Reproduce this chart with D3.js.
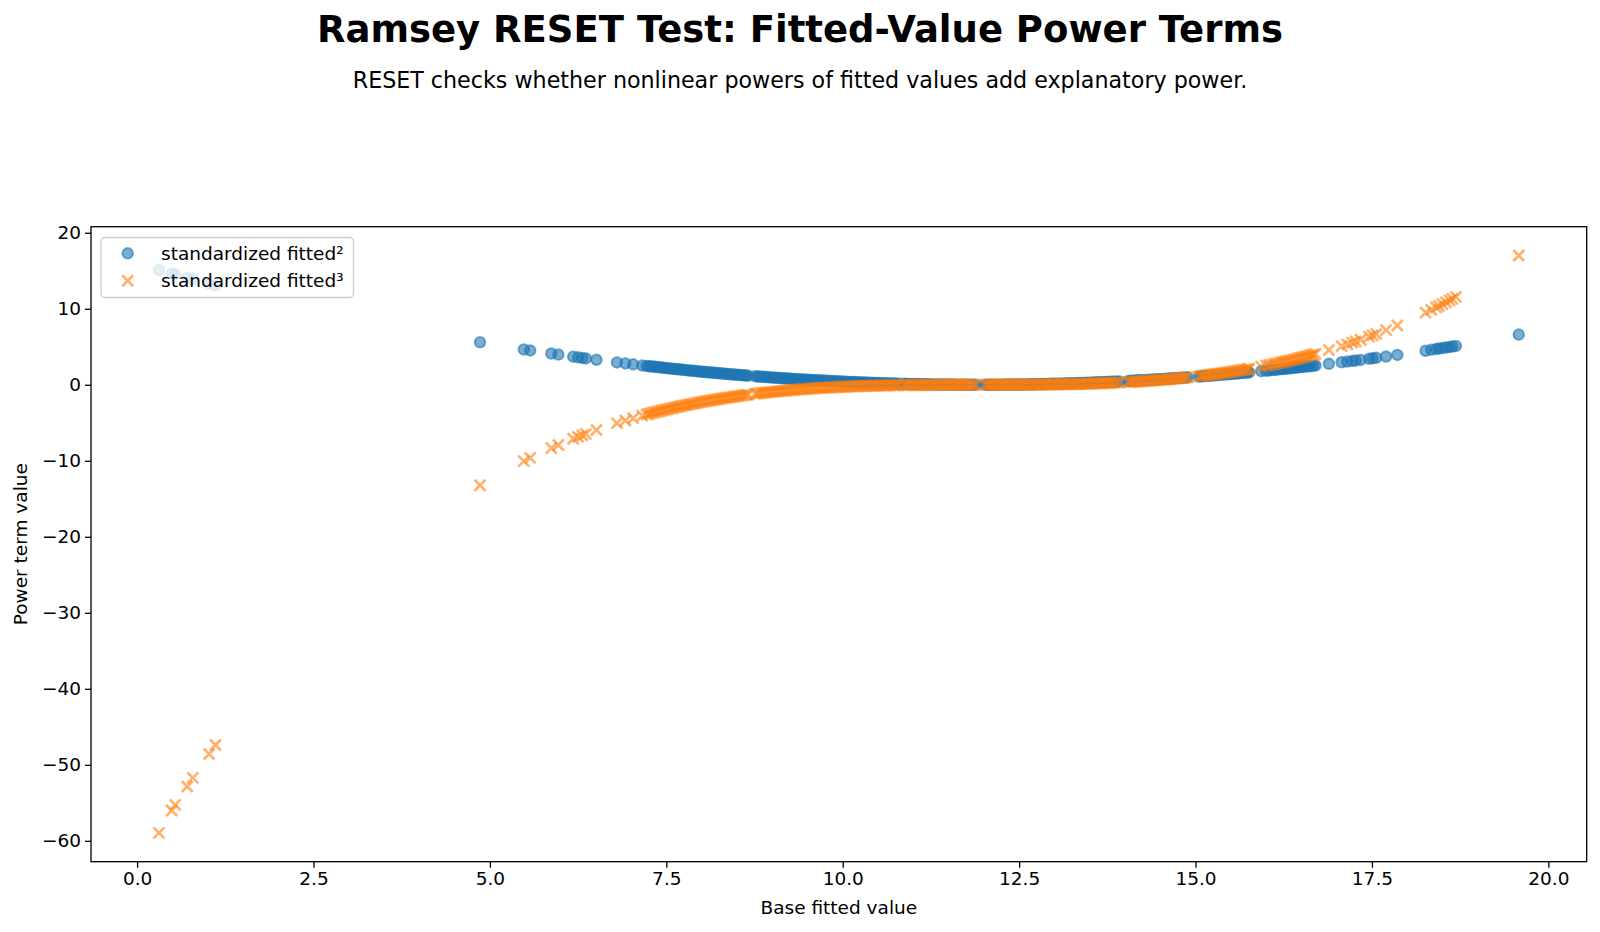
<!DOCTYPE html>
<html>
<head>
<meta charset="utf-8">
<script src="https://cdn.jsdelivr.net/npm/d3@7"></script>
<style>
  html, body { margin: 0; padding: 0; background: #fff; }
  svg { display: block; }
  text { font-family: "DejaVu Sans", sans-serif; fill: #000; }
</style>
</head>
<body>
<svg id="chart" width="1600" height="932"></svg>
<script>
// ---- data ----
const baseFitted = [
  0.31,0.49,0.54,0.71,0.79,1.02,1.11,
  4.86,
  5.48,5.57,5.87,5.97,6.18,6.25,6.31,6.36,6.51,6.80,6.92,7.03,7.16,
  7.22,7.28,7.34,7.40,7.46,7.52,7.58,7.64,7.70,7.76,7.82,7.88,7.94,8.00,8.06,8.12,8.18,8.24,8.30,8.36,8.42,8.48,8.54,8.60,8.66,
  8.76,8.82,8.88,8.94,9.00,9.06,9.12,9.18,9.24,9.30,9.36,9.42,9.48,9.54,9.60,9.66,9.72,9.78,9.84,9.90,9.96,10.02,10.08,10.14,10.20,10.26,10.32,10.38,10.44,10.50,10.56,10.62,10.68,10.74,10.80,
  10.86,10.92,10.98,11.04,11.10,11.16,11.22,11.28,11.34,11.40,11.46,11.52,11.58,11.64,11.70,11.76,11.82,11.88,
  12.02,12.08,12.14,12.20,12.26,12.32,12.38,12.44,12.50,12.56,12.62,12.68,12.74,12.80,12.86,12.92,12.98,13.04,13.10,13.16,13.22,13.28,13.34,13.40,13.46,13.52,13.58,13.64,13.70,13.76,13.82,13.88,13.92,
  14.05,14.11,14.17,14.23,14.29,14.35,14.41,14.47,14.53,14.59,14.65,14.71,14.77,14.83,14.89,
  15.05,15.11,15.17,15.23,15.29,15.35,15.41,15.47,15.53,15.59,15.65,15.71,15.76,
  15.93,16.00,16.08,16.15,16.22,16.28,16.34,16.40,16.46,16.52,16.58,16.64,16.70,
  16.89,17.07,17.15,17.22,17.27,17.34,17.46,17.51,17.56,17.70,17.86,
  18.26,18.34,18.41,18.45,18.50,18.55,18.60,18.64,18.69,
  19.58,
  7.25,7.31,7.37,7.43,7.49,7.55,7.61,7.67,7.73,7.79,7.85,7.91,7.97,8.03,8.09,8.15,8.21,8.27,8.33,8.39,8.45,8.51,8.57,8.63,
  8.79,8.85,8.91,8.97,9.03,9.09,9.15,9.21,9.27,9.33,9.39,9.45,9.51,9.57,9.63,9.69,9.75,9.81,9.87,9.93,9.99,10.05,10.11,10.17,10.23,10.29,10.35,10.41,10.47,10.53,10.59,10.65,10.71,10.77,
  10.89,10.95,11.01,11.07,11.13,11.19,11.25,11.31,11.37,11.43,11.49,11.55,11.61,11.67,11.73,11.79,11.85,
  12.05,12.11,12.17,12.23,12.29,12.35,12.41,12.47,12.53,12.59,12.65,12.71,12.77,12.83,12.89,12.95,13.01,13.07,13.13,13.19,13.25,13.31,13.37,13.43,13.49,13.55,13.61,13.67,13.73,13.79,13.85,
  14.08,14.14,14.20,14.26,14.32,14.38,14.44,14.50,14.56,14.62,14.68,14.74,14.80,14.86,
  15.08,15.14,15.20,15.26,15.32,15.38,15.44,15.50,15.56,15.62,15.68,15.74,
  16.04,16.12,16.19,16.25,16.31,16.37,16.43,16.49,16.55,16.61,16.67
];
const fittedSquared = [
  15.10,14.64,14.51,14.08,13.88,13.31,13.10,
  5.59,
  4.65,4.52,4.11,3.97,3.70,3.61,3.53,3.47,3.29,2.94,2.81,2.69,2.54,
  2.48,2.42,2.36,2.30,2.24,2.18,2.12,2.06,2.00,1.95,1.89,1.84,1.78,1.73,1.68,1.62,1.57,1.52,1.47,1.43,1.38,1.33,1.29,1.24,1.20,
  1.12,1.08,1.04,1.00,0.96,0.92,0.88,0.85,0.81,0.77,0.74,0.70,0.67,0.64,0.61,0.58,0.55,0.52,0.49,0.46,0.43,0.41,0.38,0.36,0.34,0.31,0.29,0.27,0.25,0.23,0.21,0.19,0.17,0.16,0.14,
  0.13,0.11,0.10,0.09,0.08,0.07,0.06,0.05,0.04,0.03,0.02,0.02,0.01,0.01,0.01,0.00,0.00,0.00,
  0.00,0.00,0.00,0.01,0.01,0.02,0.02,0.03,0.04,0.04,0.05,0.06,0.07,0.08,0.10,0.11,0.12,0.14,0.15,0.17,0.19,0.20,0.22,0.24,0.26,0.28,0.30,0.33,0.35,0.37,0.40,0.43,0.44,
  0.50,0.53,0.56,0.59,0.62,0.65,0.69,0.72,0.76,0.79,0.83,0.86,0.90,0.94,0.98,
  1.09,1.13,1.17,1.22,1.26,1.31,1.35,1.40,1.45,1.50,1.55,1.60,1.64,
  1.79,1.85,1.93,1.99,2.06,2.12,2.18,2.24,2.30,2.36,2.42,2.48,2.54,
  2.75,2.96,3.05,3.13,3.19,3.27,3.42,3.48,3.55,3.72,3.93,
  4.48,4.60,4.70,4.76,4.83,4.90,4.98,5.04,5.11,
  6.60,
  2.45,2.39,2.33,2.27,2.21,2.15,2.09,2.03,1.97,1.92,1.86,1.81,1.75,1.70,1.65,1.60,1.55,1.50,1.45,1.40,1.35,1.31,1.26,1.22,
  1.10,1.06,1.02,0.98,0.94,0.90,0.86,0.83,0.79,0.76,0.72,0.69,0.65,0.62,0.59,0.56,0.53,0.50,0.47,0.45,0.42,0.40,0.37,0.35,0.32,0.30,0.28,0.26,0.24,0.22,0.20,0.18,0.17,0.15,
  0.12,0.11,0.10,0.09,0.07,0.06,0.05,0.04,0.04,0.03,0.02,0.02,0.01,0.01,0.00,0.00,0.00,
  0.00,0.00,0.01,0.01,0.01,0.02,0.03,0.03,0.04,0.05,0.06,0.07,0.08,0.09,0.10,0.12,0.13,0.15,0.16,0.18,0.19,0.21,0.23,0.25,0.27,0.29,0.32,0.34,0.36,0.39,0.41,
  0.52,0.55,0.58,0.61,0.64,0.67,0.70,0.74,0.77,0.81,0.85,0.88,0.92,0.96,
  1.11,1.15,1.20,1.24,1.29,1.33,1.38,1.43,1.47,1.52,1.57,1.62,
  1.89,1.96,2.03,2.09,2.15,2.21,2.27,2.33,2.39,2.45,2.51
];
const fittedCubed = [
  -58.95,-56.01,-55.27,-52.85,-51.72,-48.58,-47.39,
  -13.22,
  -10.04,-9.62,-8.33,-7.92,-7.11,-6.86,-6.64,-6.46,-5.96,-5.05,-4.70,-4.40,-4.06,
  -3.91,-3.76,-3.62,-3.48,-3.34,-3.21,-3.08,-2.95,-2.83,-2.71,-2.60,-2.49,-2.38,-2.27,-2.17,-2.07,-1.97,-1.88,-1.79,-1.70,-1.62,-1.54,-1.46,-1.38,-1.31,
  -1.19,-1.12,-1.06,-1.00,-0.94,-0.88,-0.83,-0.78,-0.73,-0.68,-0.64,-0.59,-0.55,-0.51,-0.47,-0.44,-0.40,-0.37,-0.34,-0.31,-0.29,-0.26,-0.24,-0.21,-0.19,-0.17,-0.16,-0.14,-0.12,-0.11,-0.10,-0.08,-0.07,-0.06,-0.05,
  -0.05,-0.04,-0.03,-0.03,-0.02,-0.02,-0.01,-0.01,-0.01,-0.01,0.00,0.00,0.00,0.00,0.00,0.00,0.00,0.00,
  0.00,0.00,0.00,0.00,0.00,0.00,0.00,0.00,0.01,0.01,0.01,0.02,0.02,0.02,0.03,0.04,0.04,0.05,0.06,0.07,0.08,0.09,0.11,0.12,0.13,0.15,0.17,0.19,0.21,0.23,0.25,0.28,0.30,
  0.36,0.39,0.42,0.45,0.49,0.53,0.57,0.61,0.66,0.70,0.75,0.80,0.86,0.91,0.97,
  1.14,1.20,1.27,1.34,1.42,1.50,1.58,1.66,1.75,1.83,1.93,2.02,2.10,
  2.39,2.52,2.67,2.81,2.95,3.08,3.21,3.34,3.48,3.62,3.76,3.91,4.06,
  4.57,5.08,5.32,5.54,5.70,5.92,6.33,6.50,6.67,7.19,7.80,
  9.49,9.85,10.18,10.37,10.61,10.85,11.10,11.30,11.56,
  17.00,
  -3.83,-3.69,-3.55,-3.41,-3.27,-3.14,-3.02,-2.89,-2.77,-2.66,-2.54,-2.43,-2.32,-2.22,-2.12,-2.02,-1.93,-1.83,-1.75,-1.66,-1.58,-1.50,-1.42,-1.35,
  -1.16,-1.09,-1.03,-0.97,-0.91,-0.86,-0.80,-0.75,-0.70,-0.66,-0.61,-0.57,-0.53,-0.49,-0.45,-0.42,-0.39,-0.36,-0.33,-0.30,-0.27,-0.25,-0.23,-0.20,-0.18,-0.16,-0.15,-0.13,-0.12,-0.10,-0.09,-0.08,-0.07,-0.06,
  -0.04,-0.04,-0.03,-0.03,-0.02,-0.02,-0.01,-0.01,-0.01,0.00,0.00,0.00,0.00,0.00,0.00,0.00,0.00,
  0.00,0.00,0.00,0.00,0.00,0.00,0.00,0.01,0.01,0.01,0.01,0.02,0.02,0.03,0.03,0.04,0.05,0.06,0.06,0.07,0.09,0.10,0.11,0.13,0.14,0.16,0.18,0.20,0.22,0.24,0.26,
  0.37,0.40,0.44,0.47,0.51,0.55,0.59,0.64,0.68,0.73,0.78,0.83,0.88,0.94,
  1.17,1.24,1.31,1.38,1.46,1.54,1.62,1.70,1.79,1.88,1.97,2.07,
  2.60,2.75,2.89,3.02,3.14,3.27,3.41,3.55,3.69,3.83,3.98
];
const xTicks = [0.0, 2.5, 5.0, 7.5, 10.0, 12.5, 15.0, 17.5, 20.0];
const yTicks = [-60, -50, -40, -30, -20, -10, 0, 10, 20];
const seriesNames = ["standardized fitted\u00b2", "standardized fitted\u00b3"];
const seriesColors = ["#1f77b4", "#ff7f0e"];

// ---- layout ----
const svg = d3.select("#chart");
const plot = { left: 91, right: 1586.7, top: 226.7, bottom: 861.7 };
const fs = 18.5;

const xExt = d3.extent(baseFitted);
const xPad = (xExt[1] - xExt[0]) * 0.05;
const yAll = fittedSquared.concat(fittedCubed);
const yExt = d3.extent(yAll);
const yPad = (yExt[1] - yExt[0]) * 0.05;

const x = d3.scaleLinear().domain([xExt[0] - xPad, xExt[1] + xPad]).range([plot.left, plot.right]);
const y = d3.scaleLinear().domain([yExt[0] - yPad, yExt[1] + yPad]).range([plot.bottom, plot.top]);

// title
svg.append("text").attr("x", 800).attr("y", 42).attr("text-anchor", "middle")
  .attr("font-size", 37).attr("font-weight", "bold")
  .text("Ramsey RESET Test: Fitted-Value Power Terms");
svg.append("text").attr("x", 800).attr("y", 88).attr("text-anchor", "middle")
  .attr("font-size", 22.2)
  .text("RESET checks whether nonlinear powers of fitted values add explanatory power.");

// points
const gPts = svg.append("g");
const r = 5.3;
const pairsSq = baseFitted.map((d, i) => [d, fittedSquared[i]]);
const pairsCu = baseFitted.map((d, i) => [d, fittedCubed[i]]);
gPts.selectAll("circle.sq").data(pairsSq)
  .enter().append("circle").attr("class", "sq")
  .attr("cx", d => x(d[0])).attr("cy", d => y(d[1])).attr("r", r)
  .attr("fill", seriesColors[0]).attr("fill-opacity", 0.6)
  .attr("stroke", seriesColors[0]).attr("stroke-opacity", 0.6).attr("stroke-width", 1.9);

const cs = 5.5; // half size of x marker
const crossPath = `M${-cs},${-cs}L${cs},${cs}M${-cs},${cs}L${cs},${-cs}`;
gPts.selectAll("path.cu").data(pairsCu)
  .enter().append("path").attr("class", "cu")
  .attr("transform", d => `translate(${x(d[0])},${y(d[1])})`)
  .attr("d", crossPath)
  .attr("fill", "none").attr("stroke", seriesColors[1]).attr("stroke-opacity", 0.6)
  .attr("stroke-width", 2.7);

// axes
const xAxis = d3.axisBottom(x).tickValues(xTicks).tickFormat(d3.format(".1f")).tickSize(6).tickPadding(4);
const yAxis = d3.axisLeft(y).tickValues(yTicks).tickFormat(d => d < 0 ? "\u2212" + Math.abs(d) : d).tickSize(6).tickPadding(4);

const gx = svg.append("g").attr("transform", `translate(0,${plot.bottom})`).call(xAxis);
const gy = svg.append("g").attr("transform", `translate(${plot.left},0)`).call(yAxis);
[gx, gy].forEach(g => {
  g.select(".domain").remove();
  g.selectAll(".tick line").attr("stroke", "#000").attr("stroke-width", 1.3);
  g.selectAll(".tick text").attr("font-size", fs).attr("font-family", "DejaVu Sans").attr("fill", "#000");
});

// frame
svg.append("rect").attr("x", plot.left).attr("y", plot.top)
  .attr("width", plot.right - plot.left).attr("height", plot.bottom - plot.top)
  .attr("fill", "none").attr("stroke", "#000").attr("stroke-width", 1.3);

// axis labels
svg.append("text").attr("x", (plot.left + plot.right) / 2).attr("y", 914).attr("text-anchor", "middle")
  .attr("font-size", fs).text("Base fitted value");
svg.append("text").attr("transform", `translate(27,${(plot.top + plot.bottom) / 2}) rotate(-90)`)
  .attr("text-anchor", "middle").attr("font-size", fs).text("Power term value");

// legend
const lg = svg.append("g");
lg.append("rect").attr("x", 101).attr("y", 237.5).attr("width", 252.5).attr("height", 60)
  .attr("rx", 4).attr("fill", "#fff").attr("fill-opacity", 0.8)
  .attr("stroke", "#cccccc").attr("stroke-width", 1.3);
lg.append("circle").attr("cx", 127.7).attr("cy", 253.3).attr("r", r)
  .attr("fill", seriesColors[0]).attr("fill-opacity", 0.6)
  .attr("stroke", seriesColors[0]).attr("stroke-opacity", 0.6).attr("stroke-width", 1.9);
lg.append("path").attr("transform", "translate(127.7,280.7)").attr("d", crossPath)
  .attr("fill", "none").attr("stroke", seriesColors[1]).attr("stroke-opacity", 0.6).attr("stroke-width", 2.7);
lg.append("text").attr("x", 161).attr("y", 259.8).attr("font-size", fs).text(seriesNames[0]);
lg.append("text").attr("x", 161).attr("y", 287.2).attr("font-size", fs).text(seriesNames[1]);
</script>
</body>
</html>
